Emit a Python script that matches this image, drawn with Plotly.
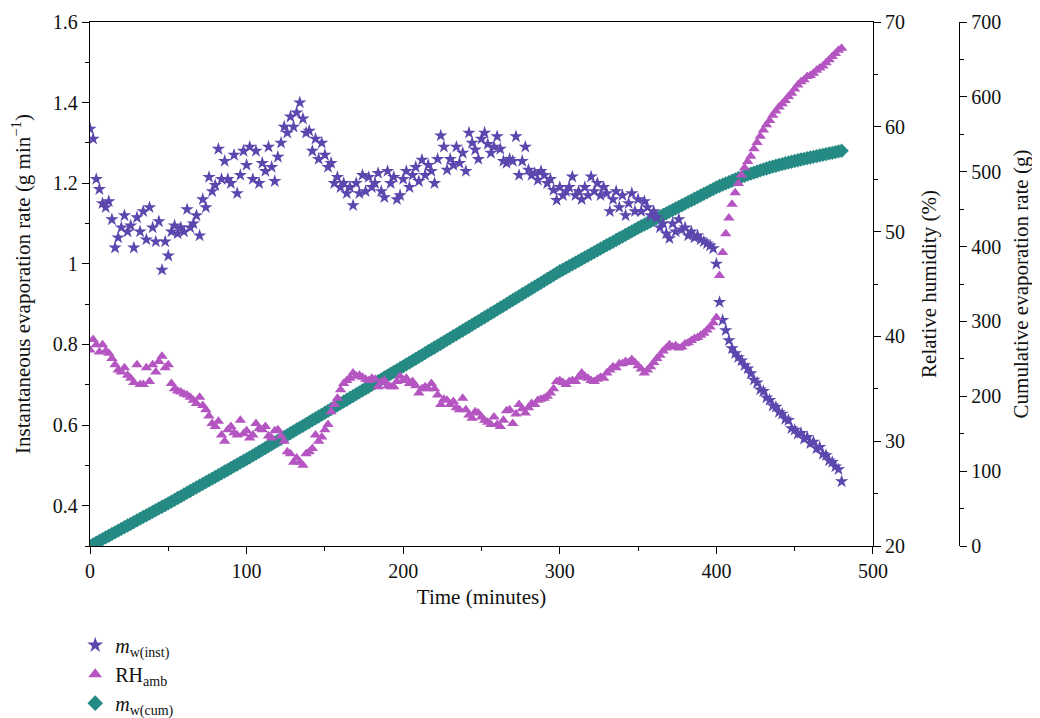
import plotly.graph_objects as go

# ======================================================
# DATA (every 2 minutes)
# ======================================================
time_min = list(range(0, 481, 2))

m_inst = [
    1.335, 1.31, 1.21, 1.185, 1.15, 1.14, 1.155, 1.11, 1.04, 1.065,
    1.09, 1.12, 1.08, 1.095, 1.04, 1.115, 1.08, 1.13, 1.06, 1.14,
    1.09, 1.055, 1.105, 0.985, 1.055, 1.02, 1.08, 1.095, 1.075, 1.09,
    1.08, 1.135, 1.09, 1.10, 1.12, 1.07, 1.16, 1.14, 1.215, 1.18,
    1.195, 1.285, 1.21, 1.255, 1.21, 1.20, 1.27, 1.175, 1.22, 1.28,
    1.245, 1.29, 1.21, 1.28, 1.20, 1.25, 1.23, 1.29, 1.24, 1.205,
    1.265, 1.30, 1.34, 1.325, 1.365, 1.34, 1.375, 1.40, 1.36, 1.325,
    1.33, 1.28, 1.31, 1.26, 1.30, 1.27, 1.24, 1.25, 1.20, 1.215,
    1.19, 1.20, 1.175, 1.19, 1.145, 1.20, 1.175, 1.22, 1.18, 1.215,
    1.19, 1.20, 1.225, 1.18, 1.165, 1.23, 1.20, 1.215, 1.16, 1.17,
    1.21, 1.23, 1.19, 1.22, 1.24, 1.205, 1.258, 1.22, 1.245, 1.23,
    1.20, 1.26, 1.318, 1.29, 1.233, 1.26, 1.245, 1.29, 1.25, 1.275,
    1.23, 1.325, 1.30, 1.283, 1.26, 1.31, 1.325, 1.297, 1.275, 1.29,
    1.316, 1.285, 1.255, 1.25, 1.26, 1.255, 1.316, 1.22, 1.255, 1.29,
    1.233, 1.22, 1.225, 1.208, 1.23, 1.22, 1.20, 1.21, 1.183, 1.158,
    1.19, 1.17, 1.18, 1.19, 1.216, 1.17, 1.18, 1.16, 1.19, 1.17,
    1.216, 1.18, 1.20, 1.17, 1.19, 1.175, 1.13, 1.16, 1.18, 1.14,
    1.17, 1.12, 1.15, 1.175, 1.13, 1.16, 1.13, 1.155, 1.14, 1.12,
    1.13, 1.115, 1.09, 1.10, 1.075, 1.063, 1.10, 1.08, 1.11, 1.085,
    1.09, 1.07, 1.08, 1.065, 1.07, 1.06, 1.055, 1.05, 1.045, 1.038,
    1.0, 0.905, 0.86, 0.835, 0.81, 0.79, 0.778, 0.768, 0.76, 0.748,
    0.74, 0.728, 0.712, 0.705, 0.688, 0.684, 0.668, 0.662, 0.648, 0.645,
    0.632, 0.628, 0.615, 0.612, 0.592, 0.588, 0.578, 0.58, 0.566, 0.57,
    0.555, 0.558, 0.542, 0.545, 0.528, 0.525, 0.512, 0.508, 0.497, 0.49,
    0.46,
]

rh_amb = [
    38.7, 39.7, 39.2, 38.5, 39.2, 38.6, 38.4, 37.9, 37.3, 36.8,
    36.6, 37.0, 36.3, 36.0, 35.6, 37.3, 35.4, 35.4, 37.0, 35.7,
    37.3, 36.6, 37.6, 38.1, 37.0, 37.3, 35.5, 35.0, 34.8, 34.7,
    34.5, 34.4, 34.2, 33.9, 33.6, 34.2, 33.4, 33.0, 32.4, 31.7,
    31.4, 31.9, 30.6, 30.0, 31.1, 31.4, 30.8, 30.6, 32.0, 30.7,
    31.0, 30.3, 30.6, 31.7, 31.2, 31.1, 31.4, 30.5, 30.3, 31.0,
    31.1, 30.5, 30.0, 29.0, 28.8, 28.0, 28.4, 28.0, 27.7, 28.8,
    29.0, 29.3, 30.6, 30.0, 30.4, 31.1, 31.6, 32.8, 33.5, 34.1,
    34.9, 35.5, 35.8, 36.0, 36.5, 36.2, 36.3, 36.1, 35.9, 35.8,
    36.0, 35.9, 35.2, 35.6, 35.8, 35.3, 35.2, 35.2, 35.7, 36.2,
    35.8, 36.0, 35.5, 35.7, 35.3, 34.6, 35.0, 35.2, 35.0, 35.5,
    35.0, 34.4, 33.5, 34.0, 33.9, 33.5, 33.8, 33.2, 33.0, 34.1,
    33.0, 32.5, 32.2, 32.8, 32.7, 32.3, 32.0, 31.8, 31.6, 32.3,
    31.6, 31.4, 32.0, 32.9, 33.0, 31.7, 32.6, 33.5, 33.1, 32.7,
    33.2, 33.6, 33.5, 33.9, 34.0, 34.1, 34.3, 34.6, 35.0, 35.7,
    35.8, 35.6, 35.4, 35.7, 35.8, 35.7, 36.1, 36.5, 36.2, 36.0,
    35.8, 35.7, 35.9, 36.1, 36.0, 36.5, 36.8, 37.1, 37.0, 37.4,
    37.4, 37.6, 37.5, 37.8, 37.5, 37.2, 36.9, 36.5, 36.8, 37.1,
    37.5, 37.9, 38.2, 38.6, 38.9, 39.2, 39.0, 39.1, 38.9, 39.0,
    39.3, 39.4, 39.6, 39.8, 39.9, 40.1, 40.3, 40.6, 40.9, 41.3,
    41.8, 45.8, 48.0, 49.8, 51.3, 52.6, 53.7, 54.6, 55.4, 56.1,
    56.7, 57.2, 57.9, 58.5, 59.1, 59.7, 60.2, 60.6, 61.1, 61.5,
    61.9, 62.2, 62.5, 62.9, 63.2, 63.6, 64.0, 64.3, 64.5, 64.8,
    64.9, 65.1, 65.4, 65.6, 65.8, 66.1, 66.4, 66.7, 67.0, 67.3,
    67.5,
]

m_cum = [
    0.0, 2.3, 4.6, 6.8, 9.1, 11.4, 13.7, 16.0, 18.2, 20.5,
    22.8, 25.1, 27.4, 29.6, 31.9, 34.2, 36.5, 38.8, 41.0, 43.3,
    45.6, 47.9, 50.2, 52.4, 54.7, 57.0, 59.4, 61.7, 64.1, 66.4,
    68.8, 71.2, 73.5, 75.9, 78.2, 80.6, 83.0, 85.3, 87.7, 90.0,
    92.4, 94.8, 97.1, 99.5, 101.8, 104.2, 106.6, 108.9, 111.3, 113.6,
    116.0, 118.5, 121.0, 123.4, 125.9, 128.4, 130.9, 133.4, 135.8, 138.3,
    140.8, 143.3, 145.8, 148.2, 150.7, 153.2, 155.7, 158.2, 160.6, 163.1,
    165.6, 168.1, 170.6, 173.0, 175.5, 178.0, 180.5, 183.0, 185.4, 187.9,
    190.4, 192.9, 195.4, 197.8, 200.3, 202.8, 205.3, 207.8, 210.2, 212.7,
    215.2, 217.7, 220.2, 222.6, 225.1, 227.6, 230.1, 232.6, 235.0, 237.5,
    240.0, 242.5, 245.0, 247.6, 250.1, 252.6, 255.1, 257.6, 260.2, 262.7,
    265.2, 267.7, 270.2, 272.8, 275.3, 277.8, 280.3, 282.8, 285.4, 287.9,
    290.4, 292.9, 295.4, 298.0, 300.5, 303.0, 305.6, 308.1, 310.7, 313.2,
    315.8, 318.4, 320.9, 323.5, 326.0, 328.6, 331.2, 333.7, 336.3, 338.8,
    341.4, 344.0, 346.5, 349.1, 351.6, 354.2, 356.8, 359.3, 361.9, 364.4,
    367.0, 369.3, 371.6, 374.0, 376.3, 378.6, 380.9, 383.2, 385.6, 387.9,
    390.2, 392.5, 394.8, 397.2, 399.5, 401.8, 404.1, 406.4, 408.8, 411.1,
    413.4, 415.7, 418.0, 420.4, 422.7, 425.0, 427.2, 429.3, 431.5, 433.6,
    435.8, 438.0, 440.1, 442.3, 444.4, 446.6, 448.8, 450.9, 453.1, 455.2,
    457.4, 459.6, 461.7, 463.9, 466.0, 468.2, 470.4, 472.5, 474.7, 476.8,
    479.0, 480.9, 482.7, 484.5, 486.2, 487.9, 489.6, 491.3, 492.9, 494.5,
    496.0, 497.5, 498.9, 500.3, 501.7, 503.0, 504.3, 505.6, 506.8, 508.0,
    509.1, 510.2, 511.3, 512.3, 513.3, 514.3, 515.3, 516.3, 517.2, 518.1,
    519.0, 519.9, 520.8, 521.7, 522.6, 523.5, 524.4, 525.3, 526.2, 527.1,
    528.0,
]

FONT = "Liberation Serif"

# ======================================================
# TRACES
# ======================================================
fig = go.Figure()

# cumulative goes on the base axis so it sits underneath the other two
fig.add_trace(go.Scatter(
    x=time_min, y=m_cum, yaxis="y", mode="markers",
    marker=dict(symbol="diamond", size=11, color="#268a84"),
    name="<i>m</i><sub>w(cum)</sub>", legendrank=3,
))
fig.add_trace(go.Scatter(
    x=time_min, y=m_inst, yaxis="y2", mode="markers",
    marker=dict(symbol="star", size=10, color="#5b47ad"),
    name="<i>m</i><sub>w(inst)</sub>", legendrank=1,
))
fig.add_trace(go.Scatter(
    x=time_min, y=rh_amb, yaxis="y3", mode="markers",
    marker=dict(symbol="triangle-up", size=10, color="#b455c1"),
    name="RH<sub>amb</sub>", legendrank=2,
))

tick_font = dict(family=FONT, size=20, color="#111")
title_font = dict(family=FONT, size=21, color="#111")

axis_style = dict(
    showline=True, linecolor="black", linewidth=1.3,
    ticks="outside", ticklen=7, tickwidth=1.3, tickcolor="black",
    showgrid=False, zeroline=False, automargin=False,
    tickfont=tick_font,
)
minor_style = dict(ticks="outside", ticklen=4, tickwidth=1.2, tickcolor="black")

fig.update_layout(
    width=1032, height=710,
    # no autoexpand: the legend below the axes must not shrink the plot
    margin=dict(l=82, r=81, t=14, b=172, autoexpand=False),
    plot_bgcolor="white", paper_bgcolor="white",
    font=dict(family=FONT, size=20, color="#111"),
    showlegend=True,
    legend=dict(
        x=-0.017, y=-0.152, xanchor="left", yanchor="top",
        font=dict(family=FONT, size=20), bgcolor="rgba(0,0,0,0)",
        itemwidth=30, itemsizing="constant", tracegroupgap=0,
    ),
    xaxis=dict(
        **axis_style, domain=[0, 0.901], range=[0, 500], dtick=100,
        mirror=True, minor=dict(dtick=50, **minor_style),
        title=dict(text="Time (minutes)", font=title_font, standoff=8),
    ),
    yaxis=dict(
        **axis_style, anchor="free", position=1.0, side="right",
        range=[0, 700], dtick=100, minor=dict(dtick=50, **minor_style),
        title=dict(text="Cumulative evaporation rate (g)", font=title_font, standoff=13),
    ),
    yaxis2=dict(
        **axis_style, overlaying="y", anchor="x", side="left",
        range=[0.3, 1.6], tick0=0.4, dtick=0.2,
        minor=dict(dtick=0.1, **minor_style),
        title=dict(text="Instantaneous evaporation rate (g min<sup>−1</sup>)",
                   font=title_font, standoff=20),
    ),
    yaxis3=dict(
        **axis_style, overlaying="y", anchor="x", side="right",
        range=[20, 70], dtick=10, minor=dict(dtick=5, **minor_style),
        title=dict(text="Relative humidity (%)", font=title_font, standoff=17),
    ),
)

fig.write_html("out.html")
